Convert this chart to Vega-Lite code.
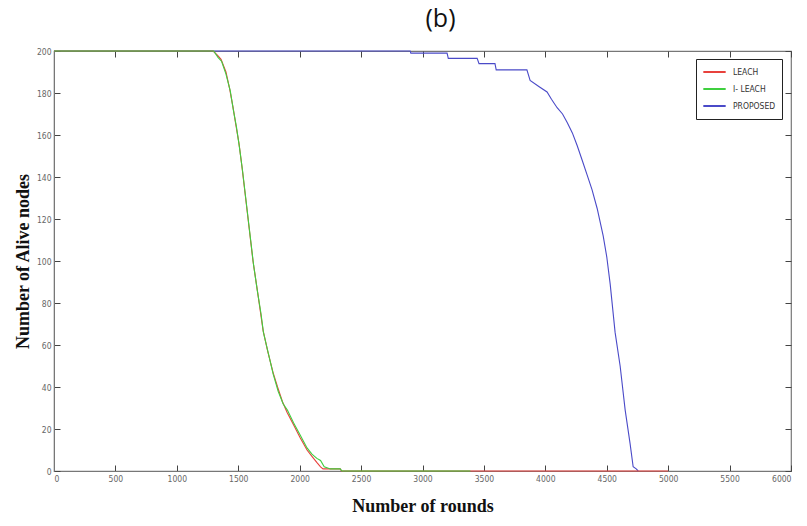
{
  "$schema": "https://vega.github.io/schema/vega-lite/v6.json",
  "autosize": "none",
  "width": 737,
  "height": 420,
  "padding": {"left": 54, "top": 51, "right": 16, "bottom": 55},
  "background": "white",
  "title": {"text": "(b)", "font": "Open Sans", "fontSize": 25, "fontWeight": "normal", "color": "#111", "anchor": "middle", "dx": 18, "offset": 15},
  "config": {
    "view": {"stroke": "#777", "strokeWidth": 1.2},
    "axis": {"grid": false, "domainColor": "#777", "ticks": true, "tickColor": "#444", "tickWidth": 1, "labelColor": "#666", "labelFont": "DejaVu Sans Condensed", "labelFontSize": 8.5, "titleFont": "Liberation Serif", "titleFontWeight": "bold", "titleFontSize": 18, "titleColor": "#111", "format": "d"}
  },
  "data": {"values": [
    {"series": "PROPOSED", "round": 0, "alive": 200},
    {"series": "PROPOSED", "round": 2900, "alive": 200},
    {"series": "PROPOSED", "round": 2905, "alive": 199},
    {"series": "PROPOSED", "round": 3200, "alive": 199},
    {"series": "PROPOSED", "round": 3210, "alive": 196.5},
    {"series": "PROPOSED", "round": 3445, "alive": 196.5},
    {"series": "PROPOSED", "round": 3460, "alive": 194},
    {"series": "PROPOSED", "round": 3590, "alive": 194},
    {"series": "PROPOSED", "round": 3600, "alive": 191},
    {"series": "PROPOSED", "round": 3850, "alive": 191},
    {"series": "PROPOSED", "round": 3876, "alive": 186},
    {"series": "PROPOSED", "round": 3950, "alive": 183},
    {"series": "PROPOSED", "round": 4014, "alive": 180.5},
    {"series": "PROPOSED", "round": 4050, "alive": 177},
    {"series": "PROPOSED", "round": 4096, "alive": 173},
    {"series": "PROPOSED", "round": 4140, "alive": 170},
    {"series": "PROPOSED", "round": 4178, "alive": 166},
    {"series": "PROPOSED", "round": 4220, "alive": 161},
    {"series": "PROPOSED", "round": 4259, "alive": 155},
    {"series": "PROPOSED", "round": 4300, "alive": 148},
    {"series": "PROPOSED", "round": 4340, "alive": 141},
    {"series": "PROPOSED", "round": 4380, "alive": 134},
    {"series": "PROPOSED", "round": 4422, "alive": 125},
    {"series": "PROPOSED", "round": 4471, "alive": 112},
    {"series": "PROPOSED", "round": 4500, "alive": 102},
    {"series": "PROPOSED", "round": 4528, "alive": 89},
    {"series": "PROPOSED", "round": 4568, "alive": 66},
    {"series": "PROPOSED", "round": 4609, "alive": 50},
    {"series": "PROPOSED", "round": 4650, "alive": 29},
    {"series": "PROPOSED", "round": 4690, "alive": 13},
    {"series": "PROPOSED", "round": 4715, "alive": 2},
    {"series": "PROPOSED", "round": 4740, "alive": 1},
    {"series": "PROPOSED", "round": 4756, "alive": 0},
    {"series": "LEACH", "round": 0, "alive": 200},
    {"series": "LEACH", "round": 1295, "alive": 200},
    {"series": "LEACH", "round": 1330, "alive": 198},
    {"series": "LEACH", "round": 1360, "alive": 196},
    {"series": "LEACH", "round": 1400, "alive": 190},
    {"series": "LEACH", "round": 1430, "alive": 182},
    {"series": "LEACH", "round": 1458, "alive": 173},
    {"series": "LEACH", "round": 1480, "alive": 165},
    {"series": "LEACH", "round": 1506, "alive": 156},
    {"series": "LEACH", "round": 1530, "alive": 145},
    {"series": "LEACH", "round": 1560, "alive": 130},
    {"series": "LEACH", "round": 1590, "alive": 115},
    {"series": "LEACH", "round": 1620, "alive": 100},
    {"series": "LEACH", "round": 1653, "alive": 87},
    {"series": "LEACH", "round": 1680, "alive": 76},
    {"series": "LEACH", "round": 1702, "alive": 67},
    {"series": "LEACH", "round": 1740, "alive": 57},
    {"series": "LEACH", "round": 1783, "alive": 47},
    {"series": "LEACH", "round": 1820, "alive": 40},
    {"series": "LEACH", "round": 1860, "alive": 33},
    {"series": "LEACH", "round": 1897, "alive": 28},
    {"series": "LEACH", "round": 1950, "alive": 22},
    {"series": "LEACH", "round": 2003, "alive": 16},
    {"series": "LEACH", "round": 2060, "alive": 10},
    {"series": "LEACH", "round": 2100, "alive": 7},
    {"series": "LEACH", "round": 2141, "alive": 4},
    {"series": "LEACH", "round": 2170, "alive": 2},
    {"series": "LEACH", "round": 2190, "alive": 1},
    {"series": "LEACH", "round": 2330, "alive": 1},
    {"series": "LEACH", "round": 2340, "alive": 0},
    {"series": "LEACH", "round": 5000, "alive": 0},
    {"series": "I- LEACH", "round": 0, "alive": 200},
    {"series": "I- LEACH", "round": 1300, "alive": 200},
    {"series": "I- LEACH", "round": 1335, "alive": 197},
    {"series": "I- LEACH", "round": 1365, "alive": 195},
    {"series": "I- LEACH", "round": 1400, "alive": 189},
    {"series": "I- LEACH", "round": 1435, "alive": 181},
    {"series": "I- LEACH", "round": 1460, "alive": 172},
    {"series": "I- LEACH", "round": 1485, "alive": 164},
    {"series": "I- LEACH", "round": 1510, "alive": 154},
    {"series": "I- LEACH", "round": 1535, "alive": 143},
    {"series": "I- LEACH", "round": 1565, "alive": 128},
    {"series": "I- LEACH", "round": 1595, "alive": 113},
    {"series": "I- LEACH", "round": 1625, "alive": 98},
    {"series": "I- LEACH", "round": 1655, "alive": 86},
    {"series": "I- LEACH", "round": 1685, "alive": 75},
    {"series": "I- LEACH", "round": 1705, "alive": 66},
    {"series": "I- LEACH", "round": 1745, "alive": 56},
    {"series": "I- LEACH", "round": 1785, "alive": 46},
    {"series": "I- LEACH", "round": 1825, "alive": 38},
    {"series": "I- LEACH", "round": 1865, "alive": 32},
    {"series": "I- LEACH", "round": 1900, "alive": 29},
    {"series": "I- LEACH", "round": 1950, "alive": 23},
    {"series": "I- LEACH", "round": 2005, "alive": 17},
    {"series": "I- LEACH", "round": 2060, "alive": 11},
    {"series": "I- LEACH", "round": 2100, "alive": 8},
    {"series": "I- LEACH", "round": 2140, "alive": 6},
    {"series": "I- LEACH", "round": 2170, "alive": 5},
    {"series": "I- LEACH", "round": 2200, "alive": 2},
    {"series": "I- LEACH", "round": 2250, "alive": 1},
    {"series": "I- LEACH", "round": 2330, "alive": 1},
    {"series": "I- LEACH", "round": 2345, "alive": 0},
    {"series": "I- LEACH", "round": 3390, "alive": 0}
  ]},
  "resolve": {"axis": {"x": "independent", "y": "independent"}},
  "layer": [
    {
      "transform": [{"filter": "datum.series === 'PROPOSED'"}],
      "mark": {"type": "line", "strokeWidth": 1.1},
      "encoding": {
        "x": {"field": "round", "type": "quantitative", "scale": {"domain": [0, 6000], "nice": false}, "axis": {"orient": "bottom", "title": "Number of rounds", "values": [0,500,1000,1500,2000,2500,3000,3500,4000,4500,5000,5500,6000], "tickSize": -6, "labelPadding": 9, "titlePadding": 15}},
        "y": {"field": "alive", "type": "quantitative", "scale": {"domain": [0, 200], "nice": false}, "axis": {"orient": "left", "title": "Number of Alive nodes", "values": [0,20,40,60,80,100,120,140,160,180,200], "tickSize": -6, "labelPadding": 9, "titlePadding": 4}},
        "color": {"field": "series", "type": "nominal", "scale": {"domain": ["LEACH", "I- LEACH", "PROPOSED"], "range": ["#e8413c", "#3fcf3f", "#4a4ac8"]},
          "legend": {"title": null, "orient": "none", "legendX": 642, "legendY": 8, "symbolType": "stroke", "symbolSize": 500, "symbolStrokeWidth": 2, "labelFont": "DejaVu Sans Condensed", "labelFontSize": 8.5, "labelColor": "#333", "strokeColor": "#222", "fillColor": "white", "padding": 6, "rowPadding": 3, "clipHeight": 14, "labelOffset": 6}}
      }
    },
    {
      "transform": [{"filter": "datum.series === 'LEACH'"}],
      "mark": {"type": "line", "strokeWidth": 1.1},
      "encoding": {
        "x": {"field": "round", "type": "quantitative", "axis": {"orient": "top", "title": null, "labels": false, "domain": false, "values": [0,500,1000,1500,2000,2500,3000,3500,4000,4500,5000,5500,6000], "tickSize": -6}},
        "y": {"field": "alive", "type": "quantitative", "axis": {"orient": "right", "title": null, "labels": false, "domain": false, "values": [0,20,40,60,80,100,120,140,160,180,200], "tickSize": -6}},
        "color": {"field": "series", "type": "nominal"}
      }
    },
    {
      "transform": [{"filter": "datum.series === 'I- LEACH'"}],
      "mark": {"type": "line", "strokeWidth": 1.1},
      "encoding": {
        "x": {"field": "round", "type": "quantitative", "axis": null},
        "y": {"field": "alive", "type": "quantitative", "axis": null},
        "color": {"field": "series", "type": "nominal"}
      }
    }
  ]
}
